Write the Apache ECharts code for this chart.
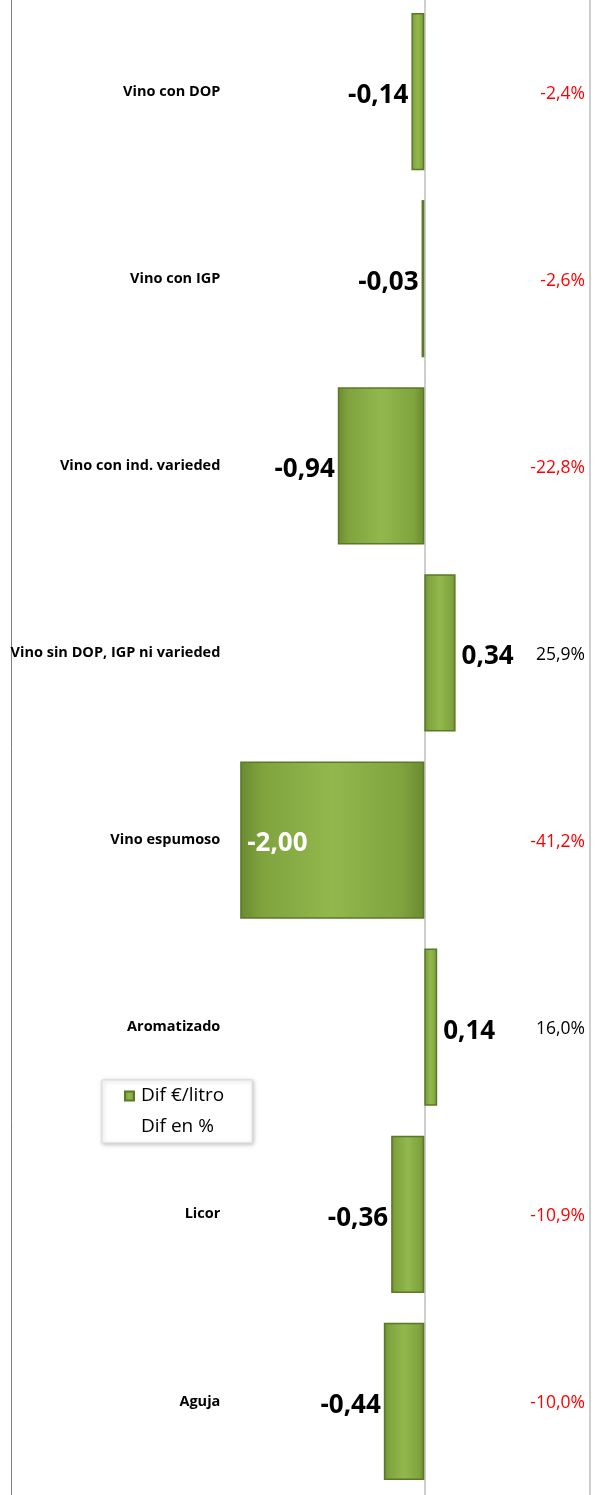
<!DOCTYPE html>
<html>
<head>
<meta charset="utf-8">
<script src="https://cdn.jsdelivr.net/npm/echarts@6/dist/echarts.min.js"></script>
<style>
  html, body { margin: 0; padding: 0; background: #fff; }
  #chart { width: 603px; height: 1495px; }
</style>
</head>
<body>
<div id="chart"></div>
<script>
// categorias (de arriba a abajo)
const categories = [
  "Vino con DOP",
  "Vino con IGP",
  "Vino con ind. varieded",
  "Vino sin DOP, IGP ni varieded",
  "Vino espumoso",
  "Aromatizado",
  "Licor",
  "Aguja"
];
// diferencia en euros por litro
const difLitro = [-0.14, -0.03, -0.94, 0.34, -2.00, 0.14, -0.36, -0.44];
// diferencia en porcentaje
const difPct = [-2.4, -2.6, -22.8, 25.9, -41.2, 16.0, -10.9, -10.0];

const FONT = "'Open Sans', 'Noto Sans', sans-serif";
const fmt = (v, d) => v.toFixed(d).replace(".", ",");

const chart = echarts.init(document.getElementById("chart"));

const minDif = Math.min(...difLitro);

// relleno verde con el centro mas claro
const barColor = new echarts.graphic.LinearGradient(0, 0, 1, 0, [
  { offset: 0, color: "#6a8a30" },
  { offset: 0.12, color: "#80a33e" },
  { offset: 0.5, color: "#92b84d" },
  { offset: 0.88, color: "#80a33e" },
  { offset: 1, color: "#6a8a30" }
]);

const GRID_LEFT = 11;
const X_MIN = -4.49;
const X_MAX = 1.8;
const GRID_W = 603 - GRID_LEFT - 13;
// desplazamiento del eje de categorias hasta el cero
const zeroOffset = -((0 - X_MIN) / (X_MAX - X_MIN)) * GRID_W;

const option = {
  backgroundColor: "#fff",
  animation: false,
  grid: {
    left: GRID_LEFT,
    right: 13,
    top: -2,
    bottom: 0,
    outerBoundsMode: "none",
    containLabel: false
  },
  legend: {
    orient: "vertical",
    left: 102,
    top: 1080,
    padding: [5, 28, 5, 22],
    itemGap: 9,
    itemWidth: 9,
    itemHeight: 9,
    backgroundColor: "#fff",
    borderColor: "#d9d9d9",
    borderWidth: 1,
    shadowColor: "rgba(0,0,0,0.25)",
    shadowBlur: 4,
    shadowOffsetX: 1,
    shadowOffsetY: 1,
    textStyle: {
      fontFamily: FONT,
      fontSize: 19,
      lineHeight: 22,
      color: "#000",
      padding: [0, 0, 0, 2]
    },
    data: [
      { name: "Dif €/litro", icon: "rect" },
      { name: "Dif en %", itemStyle: { opacity: 0 } }
    ]
  },
  xAxis: {
    type: "value",
    min: X_MIN,
    max: X_MAX,
    axisLine: { show: false },
    axisTick: { show: false },
    axisLabel: { show: false },
    splitLine: { show: false }
  },
  yAxis: [
    {
      // eje de categorias, colocado en el cero
      type: "category",
      inverse: true,
      position: "left",
      offset: zeroOffset,
      data: categories,
      axisLine: {
        onZero: false,
        lineStyle: { color: "#bfbfbf", width: 1.5 }
      },
      axisTick: {
        length: 4,
        lineStyle: { color: "#a6a6a6" }
      },
      axisLabel: {
        margin: 204,
        fontFamily: FONT,
        fontSize: 14.5,
        fontWeight: "bold",
        color: "#000"
      }
    },
    {
      // borde derecho
      type: "category",
      inverse: true,
      position: "right",
      data: categories,
      axisLine: { onZero: false, lineStyle: { color: "#bfbfbf", width: 1.5 } },
      axisTick: { show: false },
      axisLabel: { show: false }
    },
    {
      // borde izquierdo
      type: "category",
      inverse: true,
      position: "left",
      data: categories,
      axisLine: { onZero: false, lineStyle: { color: "#7f7f7f", width: 1 } },
      axisTick: { show: false },
      axisLabel: { show: false }
    }
  ],
  series: [
    {
      name: "Dif €/litro",
      type: "bar",
      barWidth: "84%",
      itemStyle: {
        color: barColor,
        borderColor: "#5a7926",
        borderWidth: 1.5
      },
      data: difLitro.map((v) => {
        const inside = v === minDif;
        return {
          value: v,
          label: {
            show: true,
            position: inside ? "insideLeft" : v < 0 ? "left" : "right",
            distance: inside ? 7 : v < 0 ? 3 : 6,
            color: inside ? "#fff" : "#000",
            offset: [0, 4],
            fontFamily: FONT,
            fontSize: 26,
            fontWeight: "bold",
            formatter: () => fmt(v, 2)
          }
        };
      })
    },
    {
      name: "Dif en %",
      type: "custom",
      itemStyle: { color: "transparent" },
      encode: { x: 0, y: 1 },
      data: difPct.map((v, i) => [v, i]),
      renderItem: (params, api) => {
        const v = api.value(0);
        const pt = api.coord([0, api.value(1)]);
        return {
          type: "text",
          x: params.coordSys.x + params.coordSys.width - 5,
          y: pt[1] + 2,
          style: {
            text: fmt(v, 1) + "%",
            fill: v < 0 ? "#ff0000" : "#000",
            align: "right",
            verticalAlign: "middle",
            font: "17.5px " + FONT
          }
        };
      }
    }
  ]
};

chart.setOption(option);
</script>
</body>
</html>
